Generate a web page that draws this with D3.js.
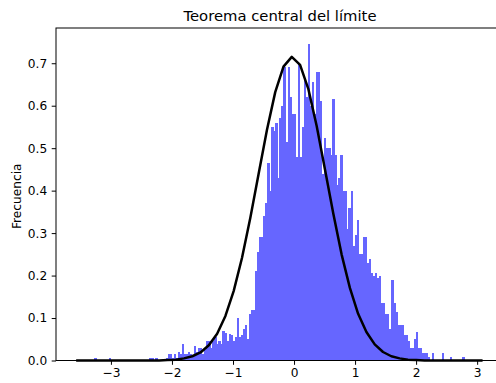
<!DOCTYPE html>
<html>
<head>
<meta charset="utf-8">
<script src="https://cdn.jsdelivr.net/npm/d3@7"></script>
<style>
  body { margin: 0; background: #fff; }
  svg { display: block; font-family: "DejaVu Sans", sans-serif; }
</style>
</head>
<body>
<figure id="hist" style="margin:0"></figure>
<script>
// histogram bin range
const binRange = [-3.57, 3.09];

// density of each of the 200 bins
const density = [
  0, 0, 0, 0, 0, 0, 0, 0, 0, 0.007,
  0, 0, 0, 0, 0, 0, 0.007, 0, 0, 0,
  0, 0, 0, 0, 0, 0, 0, 0, 0, 0,
  0, 0, 0, 0, 0, 0, 0.007, 0.007, 0, 0.007,
  0, 0, 0, 0, 0.007, 0.015, 0.015, 0.007, 0.015, 0.007,
  0.02, 0.015, 0.04, 0.015, 0.015, 0.02, 0.015, 0.01, 0.033, 0.02,
  0.03, 0.03, 0.015, 0.025, 0.045, 0.045, 0.03, 0.045, 0.055, 0.04,
  0.045, 0.04, 0.07, 0.065, 0.045, 0.063, 0.06, 0.045, 0.055, 0.1,
  0.055, 0.06, 0.075, 0.083, 0.05, 0.11, 0.12, 0.12, 0.21, 0.255,
  0.29, 0.29, 0.34, 0.37, 0.465, 0.40, 0.55, 0.54, 0.56, 0.43,
  0.57, 0.60, 0.69, 0.515, 0.69, 0.62, 0.58, 0.58, 0.48, 0.70,
  0.48, 0.55, 0.665, 0.62, 0.745, 0.60, 0.655, 0.58, 0.68, 0.68,
  0.61, 0.44, 0.525, 0.5, 0.5, 0.485, 0.615, 0.485, 0.413, 0.43,
  0.485, 0.40, 0.40, 0.31, 0.36, 0.40, 0.27, 0.295, 0.33, 0.25,
  0.25, 0.29, 0.29, 0.23, 0.24, 0.205, 0.2, 0.205, 0.195, 0.2,
  0.135, 0.135, 0.11, 0.11, 0.075, 0.19, 0.135, 0.115, 0.083, 0.083,
  0.083, 0.06, 0.06, 0.045, 0.03, 0.03, 0.05, 0.067, 0.03, 0.03,
  0.018, 0.018, 0.018, 0.008, 0, 0.018, 0, 0, 0, 0,
  0.018, 0, 0, 0, 0.008, 0, 0, 0, 0, 0,
  0.008, 0, 0, 0, 0, 0, 0, 0, 0, 0
];

// normal curve points
const curveX = [
  -3.57, -3.434, -3.298, -3.162, -3.026, -2.891, -2.755, -2.619, -2.483, -2.347,
  -2.211, -2.075, -1.939, -1.803, -1.667, -1.532, -1.396, -1.260, -1.124, -0.988,
  -0.852, -0.716, -0.580, -0.444, -0.308, -0.173, -0.037, 0.099, 0.235, 0.371,
  0.507, 0.643, 0.779, 0.915, 1.050, 1.186, 1.322, 1.458, 1.594, 1.730,
  1.866, 2.002, 2.138, 2.274, 2.410, 2.545, 2.681, 2.817, 2.953, 3.089
];
const curveY = [
  0, 0, 0, 0, 0, 0, 0, 0, 0, 0,
  0, 0.001, 0.002, 0.005, 0.010, 0.019, 0.036, 0.063, 0.105, 0.164,
  0.242, 0.336, 0.440, 0.543, 0.632, 0.692, 0.715, 0.696, 0.639, 0.552,
  0.450, 0.346, 0.250, 0.171, 0.110, 0.067, 0.038, 0.020, 0.010, 0.005,
  0.002, 0.001, 0, 0, 0, 0, 0, 0, 0, 0
];

const xTicks = [-3, -2, -1, 0, 1, 2, 3];
const yTicks = [0, 0.1, 0.2, 0.3, 0.4, 0.5, 0.6, 0.7];

const W = 496, H = 383;
const mLeft = 56, mRight = 504, mTop = 28, mBottom = 360.5;

const svg = d3.select("figure#hist")
  .append("svg")
  .attr("width", W)
  .attr("height", H);

const x = d3.scaleLinear().domain([-3.9, 3.44]).range([mLeft, mRight]);
const y = d3.scaleLinear().domain([0, 0.783]).range([mBottom, mTop]);

// bars
const bw = (binRange[1] - binRange[0]) / density.length;
svg.append("g")
  .attr("shape-rendering", "crispEdges")
  .selectAll("rect")
  .data(density)
  .enter()
  .append("rect")
  .attr("x", (d, i) => x(binRange[0] + i * bw))
  .attr("width", (d, i) => x(binRange[0] + (i + 1) * bw) - x(binRange[0] + i * bw) + 0.3)
  .attr("y", d => y(d))
  .attr("height", d => mBottom - y(d))
  .attr("fill", "#6666ff");

// curve
const line = d3.line().x(d => x(d[0])).y(d => y(d[1]));
svg.append("path")
  .datum(curveX.map((v, i) => [v, curveY[i]]))
  .attr("d", line)
  .attr("fill", "none")
  .attr("stroke", "#000")
  .attr("stroke-width", 2.5)
  .attr("stroke-linejoin", "round");

// axes
const fmtMinus = d => (d < 0 ? "\u2212" + Math.abs(d) : "" + d);
const gx = svg.append("g")
  .attr("transform", "translate(0," + mBottom + ")")
  .call(d3.axisBottom(x).tickValues(xTicks).tickFormat(fmtMinus).tickSize(4.3).tickPadding(3.5));
const gy = svg.append("g")
  .attr("transform", "translate(" + mLeft + ",0)")
  .call(d3.axisLeft(y).tickValues(yTicks).tickFormat(d3.format(".1f")).tickSize(4.3).tickPadding(4.5));

[gx, gy].forEach(g => {
  g.select(".domain").remove();
  g.selectAll("line").attr("stroke", "#000").attr("stroke-width", 1);
  g.selectAll("text").attr("fill", "#000").style("font-size", "12.2px").style("font-family", "DejaVu Sans");
});

// spines
svg.append("rect")
  .attr("x", mLeft).attr("y", mTop)
  .attr("width", mRight - mLeft).attr("height", mBottom - mTop)
  .attr("fill", "none").attr("stroke", "#000").attr("stroke-width", 1);

// title and label
svg.append("text")
  .attr("x", (mLeft + mRight) / 2).attr("y", 21)
  .attr("text-anchor", "middle")
  .style("font-size", "14.8px")
  .text("Teorema central del límite");

svg.append("text")
  .attr("transform", "translate(20.5," + ((mTop + mBottom) / 2 + 2) + ")rotate(-90)")
  .attr("text-anchor", "middle")
  .style("font-size", "12.2px")
  .text("Frecuencia");
</script>
</body>
</html>
